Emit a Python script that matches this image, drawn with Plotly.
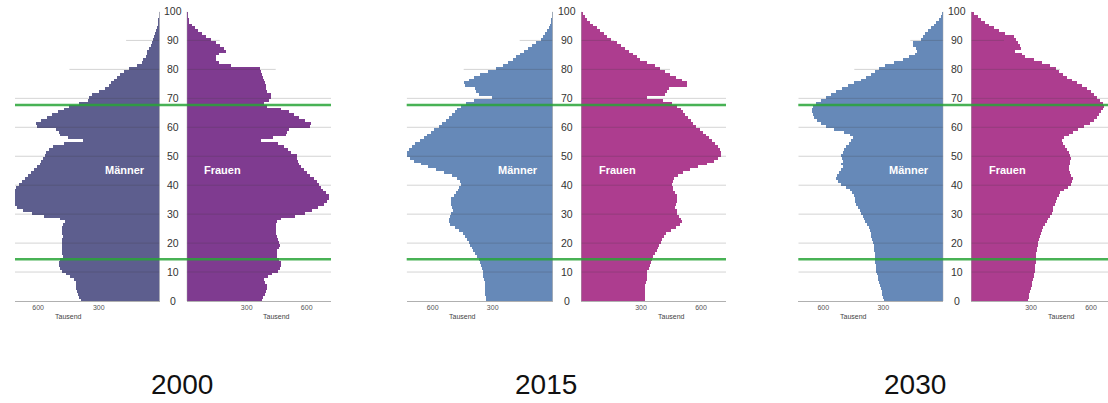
import plotly.graph_objects as go

W, H = 1108, 403

ages = list(range(100))
age_ticks = [0, 10, 20, 30, 40, 50, 60, 70, 80, 90, 100]
x_ticks = [300, 600]
x_tick_text = ["300", "600"]
years = ["2000", "2015", "2030"]

# population in thousands by single year of age (0..99)
men_2000 = [390, 400, 402, 410, 415, 412, 415, 425, 440, 460,
            480, 490, 495, 495, 492, 478, 482, 484, 484, 484,
            482, 480, 478, 480, 484, 484, 478, 468, 490, 570,
            630, 675, 705, 725, 740, 745, 740, 732, 720, 708,
            695, 682, 665, 650, 635, 620, 605, 592, 585, 575,
            568, 560, 545, 528, 470, 380, 450, 492, 495, 510,
            605, 610, 585, 555, 530, 500, 470, 445, 400, 352,
            350, 335, 300, 270, 250, 240, 225, 210, 195, 175,
            150, 110, 85, 80, 65, 62, 60, 50, 42, 35,
            30, 25, 20, 15, 12, 8, 5, 3, 2, 1]
women_2000 = [375, 380, 390, 395, 398, 402, 390, 385, 405, 425,
              455, 465, 468, 468, 460, 452, 450, 452, 458, 465,
              462, 455, 448, 445, 443, 443, 445, 450, 470, 540,
              590, 625, 655, 685, 700, 710, 708, 695, 682, 670,
              660, 648, 635, 615, 598, 585, 570, 560, 555, 552,
              548, 520, 505, 485, 455, 370, 430, 495, 500, 510,
              615, 620, 590, 560, 535, 512, 470, 400, 385, 410,
              420, 418, 400, 395, 393, 390, 385, 380, 375, 372,
              365, 220, 160, 145, 145, 160, 195, 185, 165, 145,
              120, 95, 75, 55, 40, 25, 10, 6, 3, 2]
men_2015 = [335, 335, 338, 340, 340, 340, 342, 345, 348, 350,
            352, 355, 360, 365, 370, 378, 388, 398, 405, 415,
            422, 428, 440, 450, 470, 490, 515, 522, 520, 515,
            508, 498, 505, 510, 512, 508, 495, 485, 475, 468,
            462, 465, 478, 505, 545, 585, 625, 660, 695, 715,
            728, 728, 722, 705, 690, 665, 645, 628, 610, 595,
            570, 555, 535, 522, 505, 490, 478, 462, 435, 395,
            305, 370, 385, 388, 440, 445, 420, 395, 365, 325,
            285, 250, 225, 200, 185, 165, 145, 125, 105, 85,
            60, 48, 38, 30, 22, 14, 9, 6, 4, 2]
women_2015 = [320, 320, 320, 322, 322, 322, 325, 328, 330, 330,
              332, 338, 345, 350, 355, 362, 372, 380, 385, 390,
              398, 405, 415, 425, 450, 475, 495, 505, 500, 490,
              482, 478, 472, 475, 482, 480, 478, 470, 462, 458,
              455, 458, 465, 485, 510, 545, 585, 630, 665, 685,
              700, 700, 695, 685, 670, 655, 642, 625, 608, 595,
              575, 560, 548, 535, 522, 510, 500, 480, 455, 410,
              330, 420, 432, 438, 530, 530, 505, 475, 445, 420,
              395, 370, 330, 295, 278, 260, 240, 220, 200, 180,
              150, 132, 115, 95, 80, 60, 45, 32, 20, 10]
men_2030 = [295, 300, 303, 306, 310, 315, 320, 323, 326, 330,
            333, 335, 337, 338, 340, 342, 342, 343, 345, 347,
            350, 353, 358, 362, 365, 372, 380, 388, 395, 402,
            410, 417, 425, 435, 442, 442, 445, 455, 465, 485,
            510, 525, 535, 528, 518, 510, 500, 508, 500, 505,
            508, 500, 495, 485, 470, 460, 450, 465, 495, 545,
            585, 610, 630, 645, 652, 655, 655, 650, 635, 612,
            585, 560, 535, 505, 475, 445, 410, 385, 360, 340,
            320, 290, 245, 200, 170, 140, 130, 135, 150, 150,
            110, 100, 90, 75, 60, 45, 35, 22, 12, 5]
women_2030 = [285, 288, 292, 296, 300, 303, 307, 310, 313, 316,
              320, 321, 322, 323, 324, 325, 326, 328, 330, 333,
              337, 340, 345, 350, 355, 362, 370, 378, 385, 395,
              403, 408, 412, 418, 423, 428, 438, 445, 465, 485,
              500, 505, 512, 500, 495, 488, 490, 495, 495, 498,
              495, 490, 480, 470, 460, 455, 465, 490, 510, 535,
              565, 595, 615, 630, 640, 650, 660, 667, 660, 645,
              630, 615, 598, 578, 555, 530, 505, 480, 460, 440,
              425, 395, 355, 315, 270, 255, 220, 250, 245, 235,
              225, 215, 170, 140, 115, 90, 70, 50, 35, 15]

men_series = [men_2000, men_2015, men_2030]
women_series = [women_2000, women_2015, women_2030]
men_colors = ["#5d5e8e", "#6689b8", "#6689b8"]
women_colors = ["#7f3b90", "#ad3d8f", "#ad3d8f"]

# ---- layout geometry (pixels) ----
panels = [
    dict(ml=15, mz=159.5, fz=186.7, fr=331, ms=0.2023, fs=0.2, title_x=182),
    dict(ml=406.7, mz=552.7, fz=581, fr=726, ms=0.2, fs=0.2, title_x=546),
    dict(ml=798.3, mz=943.3, fz=971, fr=1108, ms=0.2, fs=0.2, title_x=915),
]
y_bottom_px, y_top_px = 301, 11.5
ydom = [(H - y_bottom_px) / H, (H - y_top_px) / H]

FONT = "Liberation Sans, Arial, sans-serif"
grid_len = {80: 445, 90: 165}
green_ages = [67.7, 14.4]

fig = go.Figure()
layout = dict(
    width=W, height=H, margin=dict(l=0, r=0, t=0, b=0),
    paper_bgcolor="white", plot_bgcolor="rgba(0,0,0,0)",
    showlegend=False, bargap=0, barmode="overlay",
    font=dict(family=FONT, color="#444"),
    yaxis=dict(domain=ydom, range=[0, 100], visible=False, fixedrange=True),
)
shapes, annotations = [], []

for i, p in enumerate(panels):
    mx = 2 * i + 1
    fx = 2 * i + 2
    mname = "x" if mx == 1 else f"x{mx}"
    fname = f"x{fx}"
    mmax = (p["mz"] - p["ml"]) / p["ms"]
    fmax = (p["fr"] - p["fz"]) / p["fs"]
    axis_common = dict(
        anchor="y", showgrid=False, zeroline=False, showline=True,
        linecolor="#b0b0b0", linewidth=1, ticks="",
        tickvals=x_ticks, ticktext=x_tick_text,
        tickfont=dict(size=7, color="#555", family=FONT), fixedrange=True,
    )
    layout["xaxis" if mx == 1 else f"xaxis{mx}"] = dict(
        domain=[p["ml"] / W, p["mz"] / W], range=[mmax, 0], **axis_common)
    layout[f"xaxis{fx}"] = dict(
        domain=[p["fz"] / W, p["fr"] / W], range=[0, fmax], **axis_common)

    fig.add_trace(go.Bar(
        x=men_series[i], y=[a + 0.5 for a in ages], width=1, orientation="h",
        xaxis=mname, yaxis="y", marker=dict(color=men_colors[i], line=dict(width=0)),
        hoverinfo="skip"))
    fig.add_trace(go.Bar(
        x=women_series[i], y=[a + 0.5 for a in ages], width=1, orientation="h",
        xaxis=fname, yaxis="y", marker=dict(color=women_colors[i], line=dict(width=0)),
        hoverinfo="skip"))

    for a in age_ticks[1:-1]:
        mlen = grid_len.get(a, mmax)
        flen = grid_len.get(a, fmax)
        shapes.append(dict(type="line", xref=mname, yref="y", x0=0, x1=mlen, y0=a, y1=a,
                           line=dict(color="rgba(60,60,60,0.22)", width=1), layer="above"))
        shapes.append(dict(type="line", xref=fname, yref="y", x0=0, x1=flen, y0=a, y1=a,
                           line=dict(color="rgba(60,60,60,0.22)", width=1), layer="above"))
    shapes.append(dict(type="line", xref=mname, yref="y", x0=0, x1=0, y0=0, y1=100,
                       line=dict(color="#a8a8a8", width=1), layer="above"))
    shapes.append(dict(type="line", xref=fname, yref="y", x0=0, x1=0, y0=0, y1=100,
                       line=dict(color="#a8a8a8", width=1), layer="above"))
    for g in green_ages:
        shapes.append(dict(type="line", xref="paper", yref="y",
                           x0=p["ml"] / W, x1=p["fr"] / W, y0=g, y1=g,
                           line=dict(color="rgba(40,165,55,0.85)", width=2.5), layer="above"))

    cx = (p["mz"] + p["fz"]) / 2 / W
    for a in age_ticks:
        annotations.append(dict(xref="paper", yref="y", x=cx, y=a, text=str(a),
                                showarrow=False, xanchor="center", yanchor="middle",
                                font=dict(size=10.5, color="#333", family=FONT)))
    annotations.append(dict(xref=mname, yref="y", x=172, y=45.3, text="<b>Männer</b>",
                            showarrow=False, xanchor="center",
                            font=dict(size=11, color="white", family=FONT)))
    annotations.append(dict(xref=fname, yref="y", x=180, y=45.3, text="<b>Frauen</b>",
                            showarrow=False, xanchor="center",
                            font=dict(size=11, color="white", family=FONT)))
    for ax in (mname, fname):
        annotations.append(dict(xref=ax, yref="paper", x=450, y=(H - 316) / H, text="Tausend",
                                showarrow=False, xanchor="center", yanchor="middle",
                                font=dict(size=7, color="#444", family=FONT)))
    annotations.append(dict(xref="paper", yref="paper", x=p["title_x"] / W, y=(H - 384) / H,
                            text=years[i], showarrow=False, xanchor="center", yanchor="middle",
                            borderpad=0,
                            font=dict(size=28, color="#111", family=FONT)))

layout["shapes"] = shapes
layout["annotations"] = annotations
fig.update_layout(**layout)
fig.write_html(
    "out.html",
    config={"displayModeBar": False},
    post_script="document.body.style.margin='0';document.body.style.overflow='hidden';",
)
